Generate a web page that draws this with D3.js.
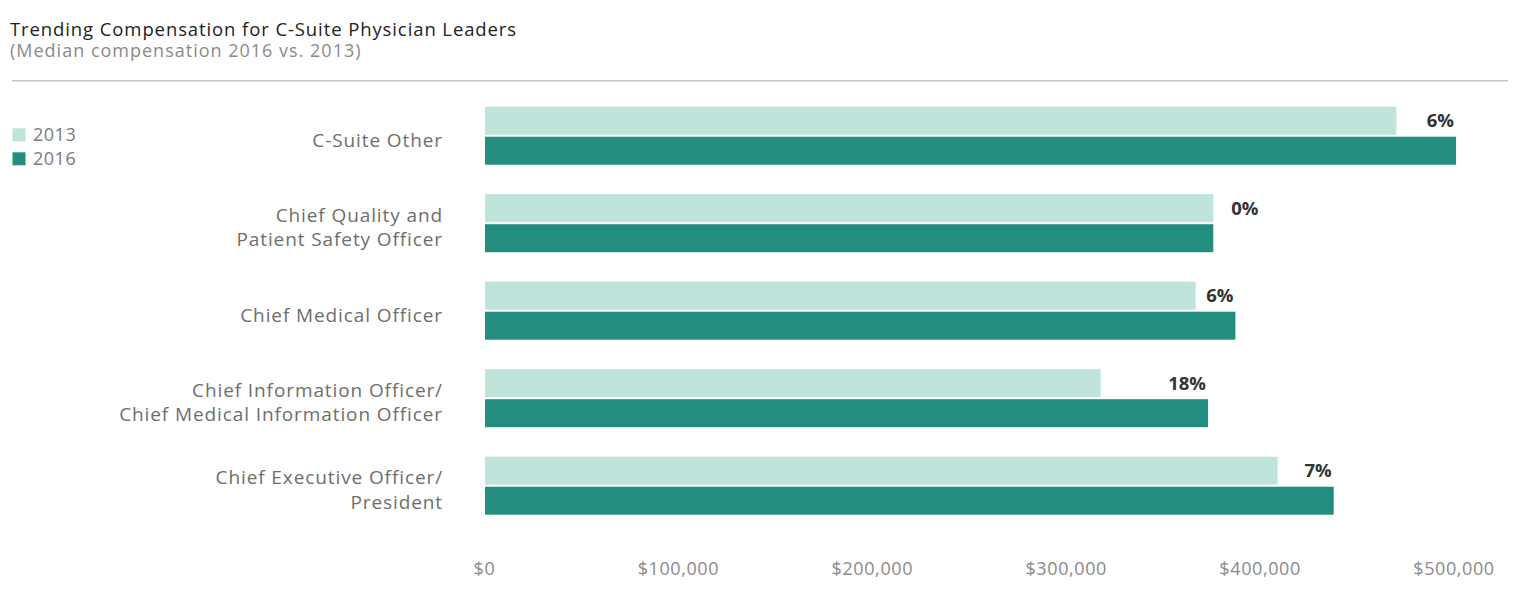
<!DOCTYPE html>
<html>
<head>
<meta charset="utf-8">
<script src="https://cdn.jsdelivr.net/npm/d3@7"></script>
<style>
  html, body { margin: 0; padding: 0; background: #ffffff; }
  svg { display: block; font-family: "Open Sans", sans-serif; }
</style>
</head>
<body>
<svg id="chart" width="1514" height="590"></svg>
<script>
// ---- data ----
const categories = [
  ["C-Suite Other"],
  ["Chief Quality and", "Patient Safety Officer"],
  ["Chief Medical Officer"],
  ["Chief Information Officer/", "Chief Medical Information Officer"],
  ["Chief Executive Officer/", "President"]
];
const seriesNames = ["2013", "2016"];
const values2013 = [470000, 375600, 366500, 317500, 408800];
const values2016 = [500800, 375600, 387000, 372900, 437700];
const changeLabels = ["6%", "0%", "6%", "18%", "7%"];
const tickValues = [0, 100000, 200000, 300000, 400000, 500000];
const title = "Trending Compensation for C-Suite Physician Leaders";
const subtitle = "(Median compensation 2016 vs. 2013)";

// ---- setup ----
const colors = { "2013": "#bee4db", "2016": "#238e80" };
const svg = d3.select("#chart");

const keys = categories.map((c, i) => "c" + i);
const x = d3.scaleLinear().domain([0, 500000]).range([485, 1454.5]);
const y = d3.scaleBand().domain(keys).range([106.7, 514.7]).paddingInner(0.337).paddingOuter(0);
const ySub = d3.scaleBand().domain(seriesNames).range([0, y.bandwidth()]).paddingInner(0.0667);

// title
svg.append("text").attr("x", 10).attr("y", 36)
  .attr("font-size", 18.5).attr("fill", "#222").attr("letter-spacing", 0.9)
  .text(title);
svg.append("text").attr("x", 10).attr("y", 57)
  .attr("font-size", 18).attr("fill", "#8a8a8a").attr("letter-spacing", 1.0)
  .text(subtitle);
svg.append("line").attr("x1", 12).attr("x2", 1508).attr("y1", 80.7).attr("y2", 80.7)
  .attr("stroke", "#c6c6c6").attr("stroke-width", 1.6);

// legend
const legend = svg.append("g");
seriesNames.forEach((s, i) => {
  const ly = 128.3 + i * 24;
  legend.append("rect").attr("x", 12.5).attr("y", ly).attr("width", 13).attr("height", 13)
    .attr("fill", colors[s]);
  legend.append("text").attr("x", 33).attr("y", ly + 13)
    .attr("font-size", 18).attr("fill", "#7a7a7a").attr("letter-spacing", 0.5).text(s);
});

// bars
const rows = categories.map((c, i) => ({
  key: keys[i], lines: c, v: { "2013": values2013[i], "2016": values2016[i] }, label: changeLabels[i]
}));

const groups = svg.append("g").selectAll("g").data(rows).join("g")
  .attr("transform", d => `translate(0,${y(d.key)})`);

groups.selectAll("rect").data(d => seriesNames.map(s => ({ s, v: d.v[s] }))).join("rect")
  .attr("x", x(0))
  .attr("y", d => ySub(d.s))
  .attr("width", d => x(d.v) - x(0))
  .attr("height", ySub.bandwidth())
  .attr("fill", d => colors[d.s]);

// change labels
groups.append("text")
  .attr("x", d => d.v["2016"] === d.v["2013"] ? x(d.v["2016"]) + 18 : x(d.v["2016"]) - 2)
  .attr("text-anchor", d => d.v["2016"] === d.v["2013"] ? "start" : "end")
  .attr("y", ySub("2013") + ySub.bandwidth() / 2)
  .attr("dy", "0.36em")
  .attr("font-size", 18.5).attr("font-weight", "bold").attr("fill", "#333")
  .text(d => d.label);

// category labels
groups.append("text")
  .attr("text-anchor", "end")
  .attr("font-size", 19).attr("fill", "#6e6e6e").attr("letter-spacing", 0.9)
  .each(function(d) {
    const t = d3.select(this);
    const center = y.bandwidth() / 2;
    const lh = 24.5;
    const first = center + 11 - (d.lines.length - 1) * lh / 2;
    d.lines.forEach((ln, j) => {
      t.append("tspan").attr("x", 443).attr("y", first + j * lh).text(ln);
    });
  });

// axis
const axis = d3.axisBottom(x).tickValues(tickValues)
  .tickFormat(d => "$" + d3.format(",")(d)).tickSize(0).tickPadding(11);
const ax = svg.append("g").attr("transform", "translate(-1,551)").call(axis);
ax.select(".domain").remove();
ax.selectAll("text").attr("font-size", 18).attr("fill", "#8a8a8a")
  .attr("font-family", "'Open Sans', sans-serif").attr("letter-spacing", 0.6);
</script>
</body>
</html>
